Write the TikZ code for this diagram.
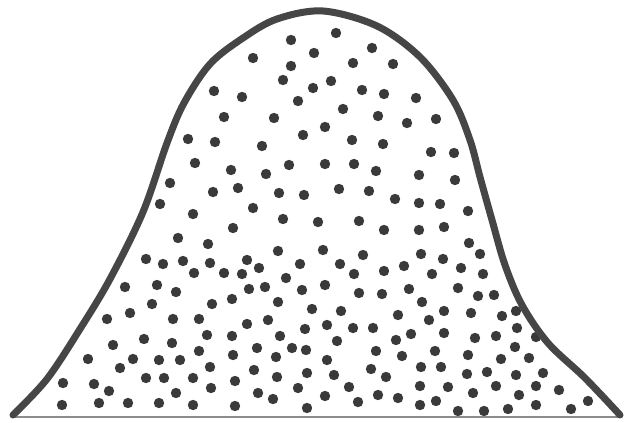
\documentclass[tikz,border=0pt]{standalone}
\definecolor{outl}{HTML}{464646}
\definecolor{dotc}{HTML}{3A3A3A}
\definecolor{basec}{HTML}{8C8C8C}
\begin{document}
\begin{tikzpicture}[x=1pt,y=-1pt,
  dotstyle/.style={fill=dotc},
  outlinestyle/.style={draw=outl,line width=7pt,line cap=round,line join=round}]
\useasboundingbox (0,0) rectangle (625,423);
\fill[white] (0,0) rectangle (625,423);
% baseline
\draw[basec,line width=2.8pt] (12,417) -- (622,417);
% dots
\foreach \x/\y in {
188/139,195/163,170/183,160/204,
291/40,336/33,253/58,314/53,372/48,291/66,353/63,393/64,283/80,331/81,313/88,214/91,242/97,362/90,384/94,416/98,
298/101,343/109,224/117,274/118,378/116,407/123,325/127,215/142,303/135,262/146,352/140,383/144,
231/170,289/165,325/164,354/164,266/174,376/171,419/175,213/192,238/188,279/193,304/195,339/189,369/191,395/199,253/208,419/203,
436/119,431/152,454/153,455/180,440/204,468/211,
193/214,178/238,146/259,163/264,183/261,194/273,210/263,125/287,157/285,176/292,152/304,212/304,
107/319,130/313,173/319,199/319,207/335,113/345,144/339,172/343,199/351,88/359,133/359,159/360,180/360,120/368,210/367,
63/383,94/384,109/391,146/378,164/378,193/378,211/388,176/393,62/405,99/403,128/403,159/403,193/405,
233/228,283/219,318/222,359/221,384/230,419/230,208/244,278/251,323/250,363/255,421/254,
247/260,259/268,300/264,340/264,224/273,242/274,286/278,354/274,384/271,404/266,
249/289,265/287,302/290,325/285,359/293,382/294,409/289,232/299,278/302,312/309,341/311,398/315,
247/324,268/320,305/329,327/325,353/328,373/328,411/334,232/336,280/336,337/341,396/340,
257/348,292/348,306/350,233/355,276/357,327/360,376/351,402/356,
254/370,307/373,371/369,421/367,235/381,277/377,334/375,386/377,298/388,349/387,
258/393,273/399,325/396,378/395,398/398,420/386,235/406,307/408,358/402,420/405,
444/227,469/243,480/254,443/259,461/268,432/274,483/274,458/288,478/296,494/295,422/302,
444/311,471/313,502/316,516/311,429/320,444/333,475/338,496/336,517/328,536/337,
435/351,468/355,501/359,515/347,529/358,441/367,467/374,487/372,516/375,543/373,
448/387,473/393,496/386,519/395,536/386,559/390,588/401,436/401,458/411,484/411,508/409,536/405,571/409}
  \fill[dotstyle] (\x,\y) circle (5.2);
% outline
\draw[outlinestyle] plot[smooth,tension=0.55] coordinates {
(13,415) (47,379) (80,329) (110,279) (143,212) (167,143) (184,103) (210,64) (243,38) (277,19) (323,11)
(377,26) (420,57) (453,100) (470,140) (480,177) (492,220) (505,265) (522,305) (548,343) (585,378) (620,415)};
\end{tikzpicture}
\end{document}
